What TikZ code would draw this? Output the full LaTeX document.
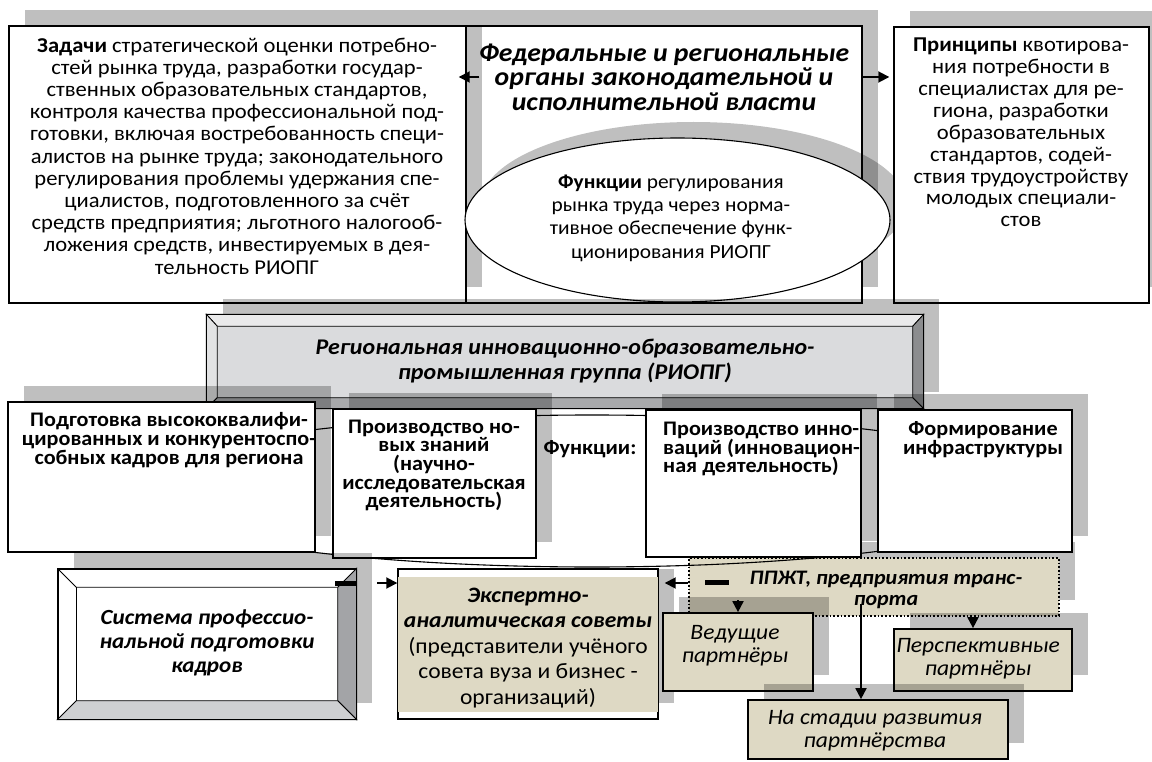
\documentclass[tikz,border=0pt]{standalone}
\usepackage{fontspec}
\setmainfont{Carlito}[FakeStretch=1.07]
\usetikzlibrary{positioning,fit,shapes.geometric,shadows,arrows.meta}

\definecolor{beige}{RGB}{222,217,196}
\definecolor{riopgface}{RGB}{218,219,221}
\definecolor{bevlight}{RGB}{234,234,235}
\definecolor{bevleft}{RGB}{226,227,228}
\definecolor{bevdark}{RGB}{140,141,143}
\definecolor{bevmid}{RGB}{168,169,171}
\definecolor{sysright}{RGB}{163,164,167}
\definecolor{sysbottom}{RGB}{207,208,210}

\newcommand\szbody{\fontsize{21.1}{22.2}\selectfont}
\newcommand\sztitle{\bfseries\itshape\fontsize{25.9}{24.5}\selectfont}
\newcommand\szriopg{\bfseries\itshape\fontsize{22.4}{25}\selectfont}
\newcommand\szfun{\bfseries\fontsize{20.7}{18.7}\selectfont}
\newcommand\szsys{\bfseries\itshape\fontsize{21.6}{24}\selectfont}
\newcommand\szexp{\fontsize{22}{25.5}\selectfont}
\newcommand\szppz{\bfseries\itshape\fontsize{20.6}{20.5}\selectfont}
\newcommand\szpart{\itshape\fontsize{22}{23}\selectfont}

\tikzset{
  graybg/.style={drop shadow={shadow xshift=16pt,shadow yshift=16pt,fill=black,opacity=0.25}},
  plainbox/.style={draw,fill=white,line width=1.4pt,inner sep=0pt},
  beigebox/.style={plainbox,fill=beige,line width=1.7pt},
  txt/.style={align=center,inner sep=0pt},
  arr/.style={line width=1.8pt,-{Triangle[length=11pt,width=11pt]}},
  stub/.style={line width=5pt},
  face/.style={draw=black,line width=0.8pt},
}

\begin{document}
\begin{tikzpicture}[x=1pt,y=-1pt]

  % Page
  \useasboundingbox (0,0) rectangle (1152,762);

  % Top row
  \node[plainbox,graybg,fit={(466,26) (862,303)}] (organy) {};
  \node[plainbox,graybg,fit={(9,26) (466,303)}] (zadachi) {};
  \node[plainbox,graybg,ellipse,line width=1.1pt,minimum width=425pt,minimum height=164pt] (funkcii) at (677.5,220) {};
  \node[plainbox,graybg,fit={(894,27) (1149,303)}] (principy) {};

  \node[txt,font=\szbody] (zadachitxt) at (237,156) {\textbf{Задачи} стратегической оценки потребно-\\
    стей рынка труда, разработки государ-\\
    ственных образовательных стандартов,\\
    контроля качества профессиональной под-\\
    готовки, включая востребованность специ-\\
    алистов на рынке труда; законодательного\\
    регулирования проблемы удержания спе-\\
    циалистов, подготовленного за счёт\\
    средств предприятия; льготного налогооб-\\
    ложения средств, инвестируемых в дея-\\
    тельность РИОПГ};
  \node[txt,font=\sztitle] (organytxt) at (664,77) {Федеральные и региональные\\
    органы законодательной и\\
    исполнительной власти};
  \node[txt,font=\fontsize{20}{23.3}\selectfont] (funkciitxt) at (671,218) {\textbf{Функции} регулирования\\
    рынка труда через норма-\\
    тивное обеспечение функ-\\
    ционирования РИОПГ};
  \node[txt,font=\fontsize{21.1}{21.9}\selectfont] (principytxt) at (1021,132.5) {\textbf{Принципы} квотирова-\\
    ния потребности в\\
    специалистах для ре-\\
    гиона, разработки\\
    образовательных\\
    стандартов, содей-\\
    ствия трудоустройству\\
    молодых специали-\\
    стов};

  % Arrows of the top row
  \draw[arr] ([xshift=14]organy.west |- 0,77) -- ([xshift=-8]zadachi.east |- 0,77);
  \draw[arr] (organy.east |- 0,77) -- ([xshift=-4]principy.west |- 0,77);

  % RIOPG
  \node[plainbox,graybg,fill=riopgface,fit={(207,315) (923,408)}] (riopg) {};
  \fill[bevlight,face] (riopg.north west) -- (riopg.north east) -- ([shift={(-11,12)}]riopg.north east) -- ([shift={(11,12)}]riopg.north west) -- cycle;
  \fill[bevleft,face] (riopg.north west) -- ([shift={(11,12)}]riopg.north west) -- ([shift={(11,-11)}]riopg.south west) -- (riopg.south west) -- cycle;
  \fill[bevdark,face] (riopg.north east) -- ([shift={(-11,12)}]riopg.north east) -- ([shift={(-11,-11)}]riopg.south east) -- (riopg.south east) -- cycle;
  \fill[bevmid,face] (riopg.south west) -- ([shift={(11,-11)}]riopg.south west) -- ([shift={(-11,-11)}]riopg.south east) -- (riopg.south east) -- cycle;
  \draw[line width=1.4pt] (riopg.north west) rectangle (riopg.south east);
  \node[txt,font=\szriopg] (riopgtxt) at (565,361) {Региональная инновационно-образовательно-\\
    промышленная группа (РИОПГ)};

  % Partners of the railway
  \node[beigebox,graybg,dotted,line width=1.3pt,fit={(689,558) (1059,616)}] (ppzht) {};

  % Functions
  \node[draw,ellipse,line width=1.1pt,minimum width=940pt,minimum height=152pt,inner sep=0pt] (fns) at (592,491) {};
  \node[plainbox,graybg,fit={(8,402) (315,552)}] (podgotovka) {};
  \node[plainbox,graybg,fit={(333,409) (536,558)}] (znaniya) {};
  \node[plainbox,graybg,fit={(646,410) (861,557)}] (innovacii) {};
  \node[plainbox,graybg,fit={(878,410) (1072,552)}] (infra) {};

  \node[txt,font=\szfun] (podgotovkatxt) at (169,440) {Подготовка высококвалифи-\\
    цированных и конкурентоспо-\\
    собных кадров для региона};
  \node[txt,font=\szfun] (znaniyatxt) at (434,465.5) {Производство но-\\
    вых знаний\\
    (научно-\\
    исследовательская\\
    деятельность)};
  \node[txt,font=\szfun] (fnstxt) at (590,449) {Функции:};
  \node[txt,align=left,anchor=west,font=\szfun] (innovaciitxt) at (663,449) {Производство инно-\\
    ваций (инновацион-\\
    ная деятельность)};
  \node[txt,font=\szfun] (infratxt) at (983,439.5) {Формирование\\
    инфраструктуры};

  % Bottom row
  \node[plainbox,graybg,fit={(58,569) (356,719)}] (sistema) {};
  \fill[sysright,face] (sistema.north east) -- ([shift={(-19,19)}]sistema.north east) -- ([shift={(-19,-19)}]sistema.south east) -- (sistema.south east) -- cycle;
  \fill[sysbottom,face] (sistema.south west) -- ([shift={(19,-19)}]sistema.south west) -- ([shift={(-19,-19)}]sistema.south east) -- (sistema.south east) -- cycle;
  \draw[face] (sistema.north west) -- ([shift={(19,19)}]sistema.north west) -- ([shift={(-19,19)}]sistema.north east);
  \draw[face] ([shift={(19,19)}]sistema.north west) -- ([shift={(19,-19)}]sistema.south west);
  \draw[line width=1.4pt] (sistema.north west) rectangle (sistema.south east);
  \node[txt,font=\szsys] (sistematxt) at (207,643) {Система профессио-\\
    нальной подготовки\\
    кадров};

  \fill[black,opacity=0.25] (658,569) rectangle (674,703);
  \node[plainbox,fit={(398,569) (658,719)}] (ekspert) {};
  \fill[beige] ([shift={(1,9)}]ekspert.north west) rectangle ([shift={(-1,-8)}]ekspert.south east);
  \node[txt,font=\szexp] (ekspertxt) at (528,648) {\textbf{\itshape Экспертно-}\\
    \textbf{\itshape аналитическая советы}\\
    (представители учёного\\
    совета вуза и бизнес -\\
    организаций)};

  \node[txt,font=\szppz] (ppzhttxt) at (886,590) {ППЖТ, предприятия транс-\\
    порта};

  \node[beigebox,graybg,fit={(663,613) (813,691)}] (vedushchie) {};
  \node[beigebox,graybg,fit={(894,629) (1072,691)}] (perspekt) {};
  \node[beigebox,graybg,fit={(748,700) (1008,759)}] (stadiya) {};
  \node[txt,font=\szpart] (vedushchietxt) at (735,646) {Ведущие\\партнёры};
  \node[txt,font=\szpart] (perspekttxt) at (978,659) {Перспективные\\партнёры};
  \node[txt,font=\szpart] (stadiyatxt) at (875,730.5) {На стадии развития\\партнёрства};

  % Arrows of the bottom row
  \draw[stub] (335,583) -- (357,583);
  \draw[stub] (705,582) -- (729,582);
  \draw[arr] (377,583) -- (ekspert.west |- 0,583);
  \draw[arr] (ppzht.west |- 0,583) -- ([xshift=6]ekspert.east |- 0,583);
  \draw[arr] (vedushchie.north |- 0,600) -- (vedushchie.north);
  \draw[arr] (ppzht.south -| 973,0) -- (perspekt.north -| 973,0);
  \draw[arr] (861,604) -- (stadiya.north -| 861,0);

\end{tikzpicture}
\end{document}
